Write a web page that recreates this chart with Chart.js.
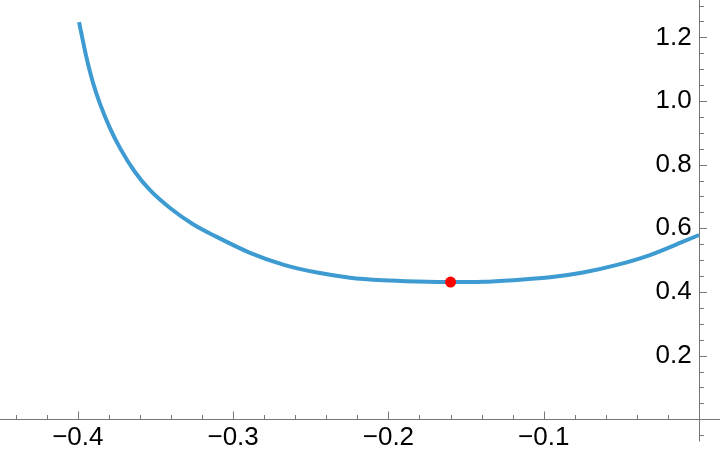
<!DOCTYPE html>
<html>
<head>
<meta charset="utf-8">
<script src="https://cdn.jsdelivr.net/npm/chart.js@4/dist/chart.umd.min.js"></script>
<style>
  html, body { margin: 0; padding: 0; background: #ffffff; }
  #wrap { width: 720px; height: 459px; position: relative; }
</style>
</head>
<body>
<div id="wrap"><canvas id="c"></canvas></div>
<script>
// Curve samples
const curveX = [-0.3992, -0.3948, -0.3902, -0.3857, -0.3793, -0.3728, -0.3632, -0.3535, -0.3406, -0.3258,
                -0.3117, -0.2891, -0.2678, -0.2459, -0.2247, -0.2035, -0.1816, -0.1597, -0.1391, -0.1172,
                -0.0959, -0.0747, -0.0528, -0.0316, -0.0103, 0.0];
const curveY = [1.248, 1.145, 1.057, 0.991, 0.915, 0.852, 0.777, 0.720, 0.664, 0.613,
                0.576, 0.523, 0.486, 0.461, 0.445, 0.437, 0.433, 0.431, 0.432, 0.438,
                0.446, 0.461, 0.485, 0.516, 0.558, 0.579];
// Highlighted minimum point
const pointX = [-0.16];
const pointY = [0.431];
// Tick labels
const xTickValues = [-0.4, -0.3, -0.2, -0.1];
const yTickValues = [0.2, 0.4, 0.6, 0.8, 1.0, 1.2];
// Axis ranges
const xRange = [-0.4501, 0.0135];
const yRange = [-0.1247, 1.3173];

const curveData = curveX.map((x, i) => ({ x: x, y: curveY[i] }));
const pointData = pointX.map((x, i) => ({ x: x, y: pointY[i] }));

function noSpace(s) {
  if (s.isHorizontal()) { s.height = 0; } else { s.width = 0; }
  s.paddingTop = 0; s.paddingBottom = 0; s.paddingLeft = 0; s.paddingRight = 0;
}

const axesPlugin = {
  id: 'mmaAxes',
  beforeDatasetsDraw(chart) {
    const ctx = chart.ctx;
    const xs = chart.scales.x, ys = chart.scales.y;
    const x0 = Math.round(xs.getPixelForValue(0)) + 0.5;
    const y0 = Math.round(ys.getPixelForValue(0)) + 0.5;
    ctx.save();
    ctx.strokeStyle = '#777777';
    ctx.lineWidth = 1;
    ctx.beginPath();
    ctx.moveTo(0, y0);
    ctx.lineTo(chart.width, y0);
    ctx.stroke();
    ctx.beginPath();
    ctx.moveTo(x0, 0);
    ctx.lineTo(x0, ys.getPixelForValue(-0.07));
    ctx.stroke();
    for (let k = -22; k <= 0; k++) {
      const px = Math.round(xs.getPixelForValue(k * 0.02)) + 0.5;
      const len = (k % 5 === 0) ? 8 : 4.5;
      ctx.beginPath();
      ctx.moveTo(px, y0);
      ctx.lineTo(px, y0 - len);
      ctx.stroke();
    }
    for (let k = -1; k <= 26; k++) {
      const py = Math.round(ys.getPixelForValue(k * 0.05)) + 0.5;
      const len = (k % 4 === 0) ? 7.5 : 4.5;
      ctx.beginPath();
      ctx.moveTo(x0, py);
      ctx.lineTo(x0 + len, py);
      ctx.stroke();
    }
    ctx.restore();
  }
};

new Chart(document.getElementById('c'), {
  type: 'line',
  data: {
    datasets: [
      {
        data: pointData,
        showLine: false,
        pointRadius: 5.5,
        pointBackgroundColor: '#ff0000',
        pointBorderColor: '#ff0000',
        pointBorderWidth: 0,
        order: 0
      },
      {
        data: curveData,
        borderColor: '#3d9bd1',
        borderWidth: 4,
        pointRadius: 0,
        fill: false,
        cubicInterpolationMode: 'monotone',
        order: 1
      }
    ]
  },
  options: {
    responsive: true,
    maintainAspectRatio: false,
    animation: false,
    events: [],
    layout: { padding: 0, autoPadding: false },
    plugins: { legend: { display: false }, tooltip: { enabled: false } },
    scales: {
      x: {
        type: 'linear',
        min: xRange[0],
        max: xRange[1],
        position: { y: 0 },
        grid: { display: false, drawTicks: false },
        border: { display: false },
        afterBuildTicks: (s) => { s.ticks = xTickValues.map(v => ({ value: v })); },
        afterFit: noSpace,
        ticks: {
          autoSkip: false,
          maxRotation: 0,
          padding: 2.5,
          color: '#000000',
          font: { family: '"Liberation Sans", Arial, sans-serif', size: 26 },
          callback: (v) => (v < 0 ? '\u2212' : '') + Math.abs(v).toFixed(1)
        }
      },
      y: {
        type: 'linear',
        min: yRange[0],
        max: yRange[1],
        // labels sit a few pixels left of the x = 0 axis line
        position: { x: -0.0047 },
        grid: { display: false, drawTicks: false },
        border: { display: false },
        afterBuildTicks: (s) => { s.ticks = yTickValues.map(v => ({ value: v })); },
        afterFit: noSpace,
        ticks: {
          autoSkip: false,
          padding: 0,
          color: '#000000',
          font: { family: '"Liberation Sans", Arial, sans-serif', size: 26 },
          callback: (v) => Number(v).toFixed(1)
        }
      }
    }
  },
  plugins: [axesPlugin]
});
</script>
</body>
</html>
